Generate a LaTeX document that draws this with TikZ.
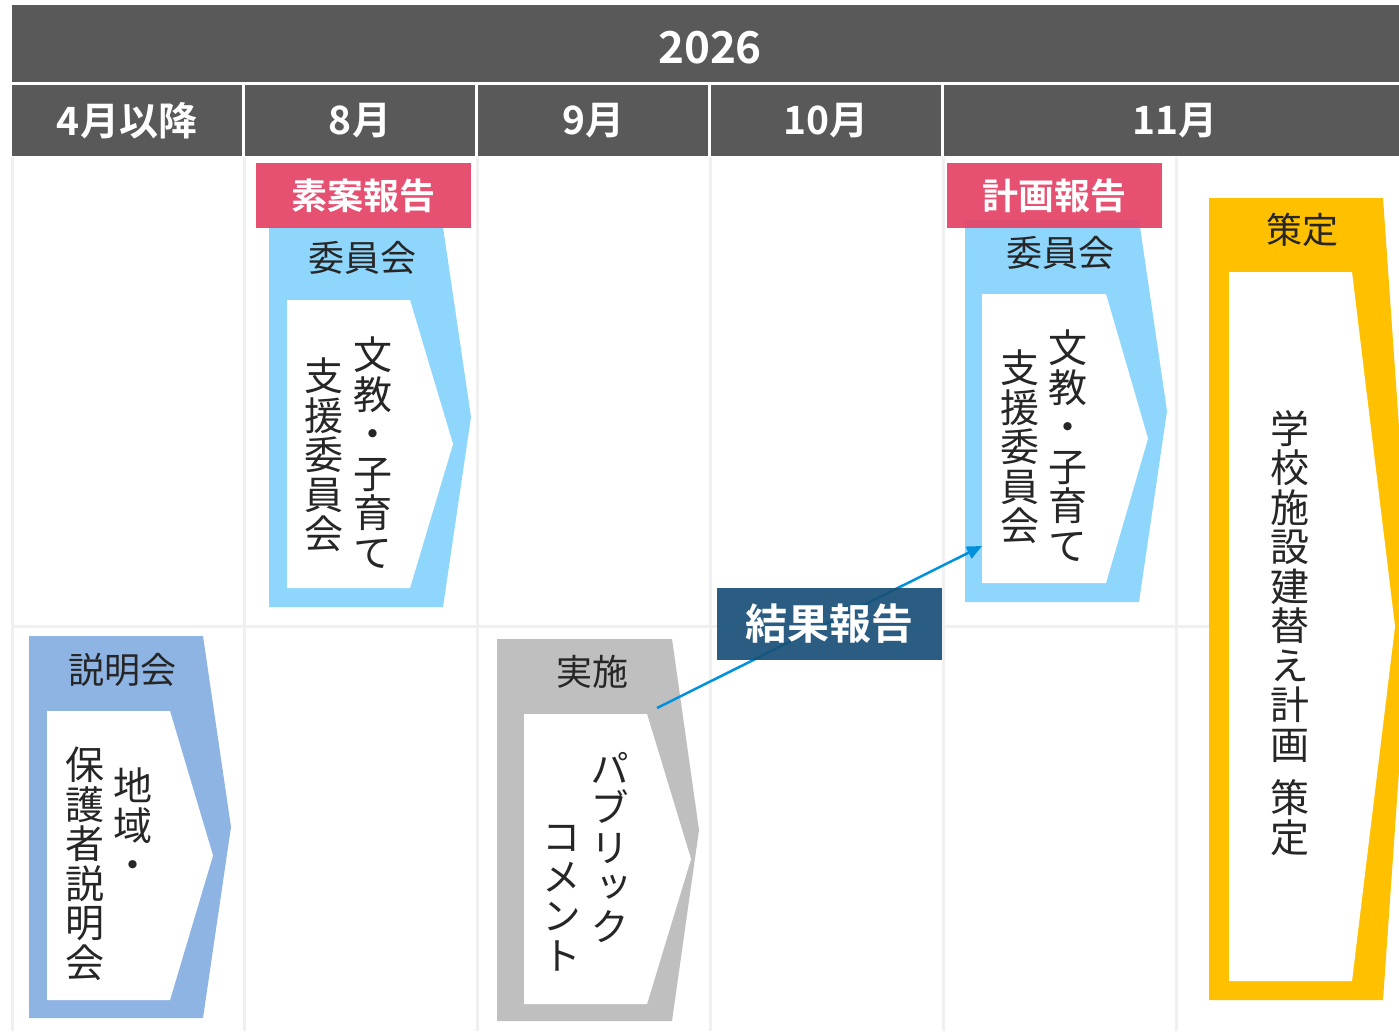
\documentclass[tikz,border=0pt]{standalone}
\usepackage{fontspec}
\setmainfont{Noto Sans CJK JP}[BoldFont={Noto Sans CJK JP Bold}]
\newfontfamily\vjp[RawFeature=+vert]{Noto Sans CJK JP}
\usepackage{tikz}
\usetikzlibrary{positioning,arrows.meta}
\definecolor{hdrgray}{RGB}{89,89,89}
\definecolor{gridgray}{RGB}{240,240,240}
\definecolor{reportred}{RGB}{229,70,105}
\definecolor{resultblue}{RGB}{24,80,119}
\definecolor{cttblue}{RGB}{143,214,252}
\definecolor{mtgblue}{RGB}{142,180,227}
\definecolor{pcgray}{RGB}{191,191,191}
\definecolor{planyellow}{RGB}{255,192,0}
\definecolor{linkblue}{RGB}{0,145,218}
\definecolor{txt}{RGB}{38,38,38}
\tikzstyle{yearcell} = [fill=hdrgray, text=white, inner sep=0pt, font=\bfseries\fontsize{44}{48}\selectfont]
\tikzstyle{monthcell} = [fill=hdrgray, text=white, inner sep=0pt, minimum width=230pt, minimum height=71pt, font=\bfseries\fontsize{39}{44}\selectfont]
\tikzstyle{report} = [fill=reportred, fill opacity=0.94, text opacity=1, text=white, inner sep=0pt, minimum width=215pt, minimum height=65pt, font=\bfseries\fontsize{36}{40}\selectfont]
\tikzstyle{result} = [fill=resultblue, fill opacity=0.92, text opacity=1, text=white, inner sep=0pt, minimum width=225pt, minimum height=72pt, font=\bfseries\fontsize{42}{46}\selectfont]
\tikzstyle{title} = [text=txt, inner sep=0pt, font=\fontsize{36}{40}\selectfont]
\tikzstyle{vcol} = [text=txt, inner sep=0pt, align=center, anchor=north, font=\vjp\fontsize{39}{39.5}\selectfont]
\tikzstyle{grid} = [draw=gridgray, line width=3pt]
\tikzstyle{link} = [draw=linkblue, line width=2.5pt, -{Triangle[length=15pt,width=13pt]}]
% pentagon arrow: x left, y top, x shoulder, x tip, y bottom, colour
\newcommand{\homeplate}[6]{%
  \fill[#6] (#1,#2) -- (#3,#2) -- (#4,{(#2+#5)/2}) -- (#3,#5) -- (#1,#5) -- cycle;}

\begin{document}
\begin{tikzpicture}[x=1pt,y=-1pt]
\useasboundingbox (0,0) rectangle (1399,1031);
\clip (0,0) rectangle (1399,1031);
\fill[white] (0,0) rectangle (1399,1031);
% header rows
\node[yearcell, minimum width=1398pt, minimum height=77pt] (year) at (711,43.5) {};
\node[yearcell, fill=none] (yeartxt) at (year.center) [xshift=-1pt,yshift=-4.5pt] {2026};
\node[monthcell] (apr) at (127,120.5) {4月以降};
\node[monthcell] (aug) at (360,120.5) {8月};
\node[monthcell] (sep) at (593,120.5) {9月};
\node[monthcell] (oct) at (826,120.5) {10月};
\node[monthcell, minimum width=462pt] (nov) at (1175,120.5) {11月};
% grid
\foreach \x in {12,244,477,710,943,1176}
  \draw[grid] (\x,157) -- (\x,1031);
\draw[grid] (12,626) -- (1399,626);
% arrows
\homeplate{269}{227}{443}{471}{607}{cttblue}
\homeplate{287}{300}{410}{453}{588}{white}
\homeplate{965}{220}{1139}{1167}{602}{cttblue}
\homeplate{982}{294}{1106}{1148}{583}{white}
\homeplate{29}{636}{203}{231}{1018}{mtgblue}
\homeplate{47}{711}{170}{213}{1000}{white}
\homeplate{497}{639}{672}{699}{1021}{pcgray}
\homeplate{524}{714}{647}{691}{1004}{white}
\homeplate{1209}{198}{1383}{1411}{1000}{planyellow}
\homeplate{1229}{272}{1352}{1395}{981}{white}
% titles
\node[title] (augttl) at (362,258) {委員会};
\node[title] (novttl) at (1060,253) {委員会};
\node[title] (aprttl) at (122,670) {説明会};
\node[title] (septtl) at (592,672) {実施};
\node[title] (planttl) at (1302,230) {策定};
% vertical texts
\node[vcol] (augcol1) at (373,337) {文\\教\\・\\子\\育\\て};
\node[vcol] (augcol2) at (324,358) {支\\援\\委\\員\\会};
\node[vcol] (novcol1) at (1068,330) {文\\教\\・\\子\\育\\て};
\node[vcol] (novcol2) at (1020,350) {支\\援\\委\\員\\会};
\node[vcol] (aprcol1) at (133,768) {地\\域\\・};
\node[vcol] (aprcol2) at (85,747) {保\\護\\者\\説\\明\\会};
\node[vcol] (sepcol1) at (610,752) {パ\\ブ\\リ\\ッ\\ク};
\node[vcol] (sepcol2) at (562,825) {コ\\メ\\ン\\ト};
\node[vcol] (plancol) at (1290,410) {学\\校\\施\\設\\建\\替\\え\\計\\画\\[14pt]策\\定};
% reports
\node[report] (draftrep) at (363.5,195.5) {素案報告};
\node[report] (planrep) at (1054.5,195.5) {計画報告};
\coordinate (pcout) at (657,708);
\coordinate (cttin) at (982,546);
\draw[link] (pcout) -- (cttin);
\node[result] (resultrep) at (829.5,624) {結果報告};
\end{tikzpicture}
\end{document}
